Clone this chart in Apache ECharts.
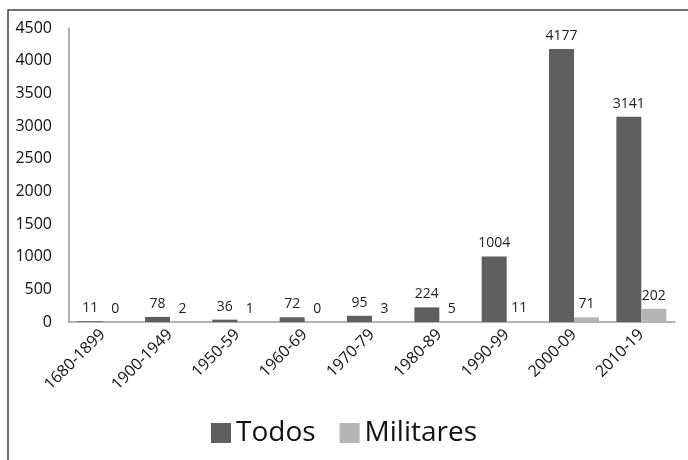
<!DOCTYPE html>
<html lang="es">
<head>
  <meta charset="UTF-8">
  <title>Todos / Militares</title>
  <script src="https://cdn.jsdelivr.net/npm/echarts@6/dist/echarts.min.js"></script>
  <style>
    body { margin: 0; background: #fff; }
    #chart { width: 688px; height: 460px; }
  </style>
</head>
<body>
  <div id="chart"></div>
<script>
  // datos
  var periodos = ['1680-1899', '1900-1949', '1950-59', '1960-69', '1970-79', '1980-89', '1990-99', '2000-09', '2010-19']
  var todos = [11, 78, 36, 72, 95, 224, 1004, 4177, 3141]
  var militares = [0, 2, 1, 0, 3, 5, 11, 71, 202]

  var font = '"Open Sans", "DejaVu Sans", sans-serif'
  var chart = echarts.init(document.getElementById('chart'))

  var etiqueta = {
    show: true,
    position: 'top',
    distance: 6,
    color: '#222',
    fontSize: 14,
    fontFamily: font
  }

  chart.setOption({
    animation: false,
    textStyle: { fontFamily: font },
    // marco exterior
    graphic: [{
      type: 'rect',
      shape: { x: 8, y: 10, width: 700, height: 470 },
      style: { fill: 'none', stroke: '#444', lineWidth: 1.5 },
      silent: true
    }],
    legend: {
      bottom: 8,
      left: 'center',
      itemWidth: 20,
      itemHeight: 20,
      itemGap: 24,
      icon: 'rect',
      textStyle: { fontSize: 28, color: '#111', fontFamily: font }
    },
    grid: { left: 69, right: 13, top: 28, bottom: 138 },
    xAxis: {
      type: 'category',
      data: periodos,
      axisLine: { lineStyle: { color: '#999', width: 1.5 } },
      axisTick: { show: false },
      axisLabel: { rotate: 45, margin: 10, fontSize: 16, color: '#111', fontFamily: font }
    },
    yAxis: {
      type: 'value',
      min: 0,
      max: 4500,
      interval: 500,
      splitLine: { show: false },
      axisLine: { show: true, lineStyle: { color: '#999', width: 1.5 } },
      axisTick: { show: false },
      axisLabel: {
        margin: 17,
        fontSize: 16,
        color: '#111',
        fontFamily: font,
        formatter: function (v) { return String(v) }
      }
    },
    series: [
      {
        name: 'Todos',
        type: 'bar',
        data: todos,
        barWidth: 25,
        barGap: '0%',
        itemStyle: { color: '#5f5f5f' },
        label: etiqueta
      },
      {
        name: 'Militares',
        type: 'bar',
        data: militares,
        barWidth: 25,
        itemStyle: { color: '#b5b5b5' },
        label: etiqueta
      }
    ]
  })
</script>
</body>
</html>
